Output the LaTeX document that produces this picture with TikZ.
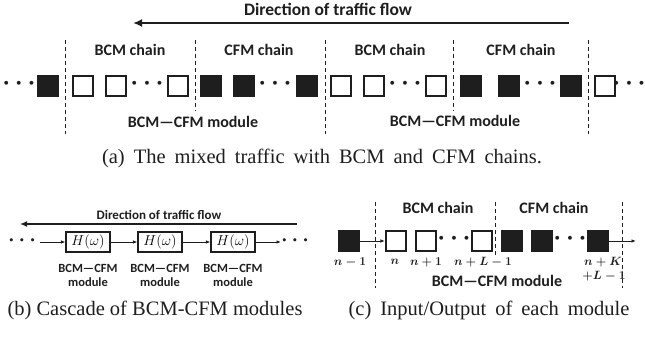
\documentclass[tikz,border=0pt]{standalone}
\usepackage{fontspec}
\setmainfont{Liberation Serif}
\newfontfamily\calib{Carlito}
\usetikzlibrary{arrows.meta}
\definecolor{ink}{HTML}{1E1E1E}
\tikzset{
  lbl/.style={font=\calib\bfseries\fontsize{16}{17}\selectfont, text=ink, inner sep=0pt},
  headline/.style={font=\calib\bfseries\fontsize{17.5}{19}\selectfont, text=ink, inner sep=0pt},
  lblsmall/.style={font=\calib\bfseries\fontsize{12.5}{14}\selectfont, text=ink, inner sep=0pt, align=center},
  headsmall/.style={font=\calib\bfseries\fontsize{13}{14}\selectfont, text=ink, inner sep=0pt},
  captext/.style={font=\fontsize{20.5}{23}\selectfont, text=ink, inner sep=0pt},
  bcm/.style={draw=ink, line width=1.6pt, fill=white, minimum size=20.5pt, inner sep=0pt},
  cfm/.style={draw=ink, line width=1.6pt, fill=ink, minimum size=20.5pt, inner sep=0pt},
  sep/.style={draw=ink, line width=0.8pt, dash pattern=on 4pt off 3pt},
  flow/.style={draw=ink, line width=2.4pt, -{Latex[length=9pt,width=8pt]}},
  link/.style={draw=ink, line width=0.9pt, -{Latex[length=4.5pt,width=3.5pt]}},
  hbox/.style={draw=ink, line width=1.1pt, minimum width=44pt, minimum height=20pt, inner sep=0pt, font=\fontsize{13.5}{15}\selectfont},
  dots/.style={font=\boldmath\fontsize{24}{24}\selectfont, text=ink, inner sep=0pt},
  sdots/.style={font=\boldmath\fontsize{20}{20}\selectfont, text=ink, inner sep=0pt},
  idx/.style={font=\boldmath\fontsize{12}{13}\selectfont, text=ink, inner sep=0pt},
}
\begin{document}
\begin{tikzpicture}[x=1pt,y=-1pt]
\useasboundingbox (0,0) rectangle (645,337);

% ---------- (a) mixed traffic ----------
\node[headline] (dirA) at (328,9) {Direction of traffic flow};
\coordinate (aR) at (569,23);
\coordinate (aL) at (133,23);
\draw[flow] (aR) -- (aL);

% outer module boundaries run past the module labels, inner ones stop above them
\foreach \x [count=\i] in {65,325,588}{
  \coordinate (st\i) at (\x,40);
  \coordinate (sb\i) at (\x,134);
  \draw[sep] (st\i) -- (sb\i);
}
\foreach \x [count=\i] in {195,453}{
  \coordinate (it\i) at (\x,40);
  \coordinate (ib\i) at (\x,111);
  \draw[sep] (it\i) -- (ib\i);
}

\node[lbl] (c1) at (130,50) {BCM chain};
\node[lbl] (c2) at (259,50) {CFM chain};
\node[lbl] (c3) at (390,50) {BCM chain};
\node[lbl] (c4) at (521,50) {CFM chain};

\node[dots] (d0) at (19,84) {$\cdots$};
\node[cfm] (q0) at (48,86) {};
\node[bcm] (q1) at (83,86) {};
\node[bcm] (q2) at (116,86) {};
\node[dots] (d1) at (147,84) {$\cdots$};
\node[bcm] (q3) at (178,86) {};
\node[cfm] (q4) at (211,86) {};
\node[cfm] (q5) at (244,86) {};
\node[dots] (d2) at (275,84) {$\cdots$};
\node[cfm] (q6) at (307,86) {};
\node[bcm] (q7) at (341,86) {};
\node[bcm] (q8) at (374,86) {};
\node[dots] (d3) at (405,84) {$\cdots$};
\node[bcm] (q9) at (436,86) {};
\node[cfm] (q10) at (471,86) {};
\node[cfm] (q11) at (509,86) {};
\node[dots] (d4) at (540,84) {$\cdots$};
\node[cfm] (q12) at (571,86) {};
\node[bcm] (q13) at (605,86) {};
\node[dots] (d5) at (629,84) {$\cdots$};

\node[lbl] (m1) at (193,122) {BCM—CFM module};
\node[lbl] (m2) at (455,121) {BCM—CFM module};

\node[captext] (capA) at (322,158) {\spaceskip=9pt plus 0pt (a) The mixed traffic with BCM and CFM chains.};

% ---------- (b) cascade ----------
\node[headsmall] (dirB) at (159,215) {Direction of traffic flow};
\coordinate (bR) at (297,224);
\coordinate (bL) at (20,224);
\draw[draw=ink, line width=1.8pt, -{Latex[length=7pt,width=6pt]}] (bR) -- (bL);

\node[sdots] (e0) at (22,241) {$\cdots$};
\coordinate (in0) at (40,242);
\node[hbox] (h1) at (88,242) {$H(\omega)$};
\node[hbox] (h2) at (160,242) {$H(\omega)$};
\node[hbox] (h3) at (233,242) {$H(\omega)$};
\coordinate (out0) at (281,242);
\node[sdots] (e1) at (295,241) {$\cdots$};
\draw[link] (in0) -- (h1);
\draw[link] (h1) -- (h2);
\draw[link] (h2) -- (h3);
\draw[link] (h3) -- (out0);

\node[lblsmall] (n1) at (88,275) {BCM—CFM\\module};
\node[lblsmall] (n2) at (160,275) {BCM—CFM\\module};
\node[lblsmall] (n3) at (233,275) {BCM—CFM\\module};

\node[captext] (capB) at (155,310) {(b) Cascade of BCM-CFM modules};

% ---------- (c) one module ----------
\node[lbl] (k1) at (438,208) {BCM chain};
\node[lbl] (k2) at (554,208) {CFM chain};
\foreach \x [count=\i] in {375,622}{
  \coordinate (ut\i) at (\x,202);
  \coordinate (ub\i) at (\x,288);
  \draw[sep] (ut\i) -- (ub\i);
}
\coordinate (vt) at (495,202);
\coordinate (vb) at (495,256);
\draw[sep] (vt) -- (vb);

\node[cfm] (p0) at (349,241) {};
\node[bcm] (p1) at (396,241) {};
\node[bcm] (p2) at (426,241) {};
\node[dots] (f1) at (454,239) {$\cdots$};
\node[bcm] (p3) at (482,241) {};
\node[cfm] (p4) at (512,241) {};
\node[cfm] (p5) at (542,241) {};
\node[dots] (f2) at (570,239) {$\cdots$};
\node[cfm] (p6) at (598,241) {};
\coordinate (pout) at (636,241);
\draw[link] (p0) -- (p1);
\draw[link] (p6) -- (pout);

\node[idx] (i0) at (350,262) {$n-1$};
\node[idx] (i1) at (395,262) {$n$};
\node[idx] (i2) at (426,262) {$n+1$};
\node[idx] (i3) at (483,262) {$n+L-1$};
\node[idx] (i4) at (603,262) {$n+K$};
\node[idx] (i5) at (604,276) {$+L-1$};
\node[lbl] (mc) at (497,281) {BCM—CFM module};

\node[captext] (capC) at (489,310) {\spaceskip=9pt plus 0pt (c) Input/Output of each module};
\end{tikzpicture}
\end{document}
